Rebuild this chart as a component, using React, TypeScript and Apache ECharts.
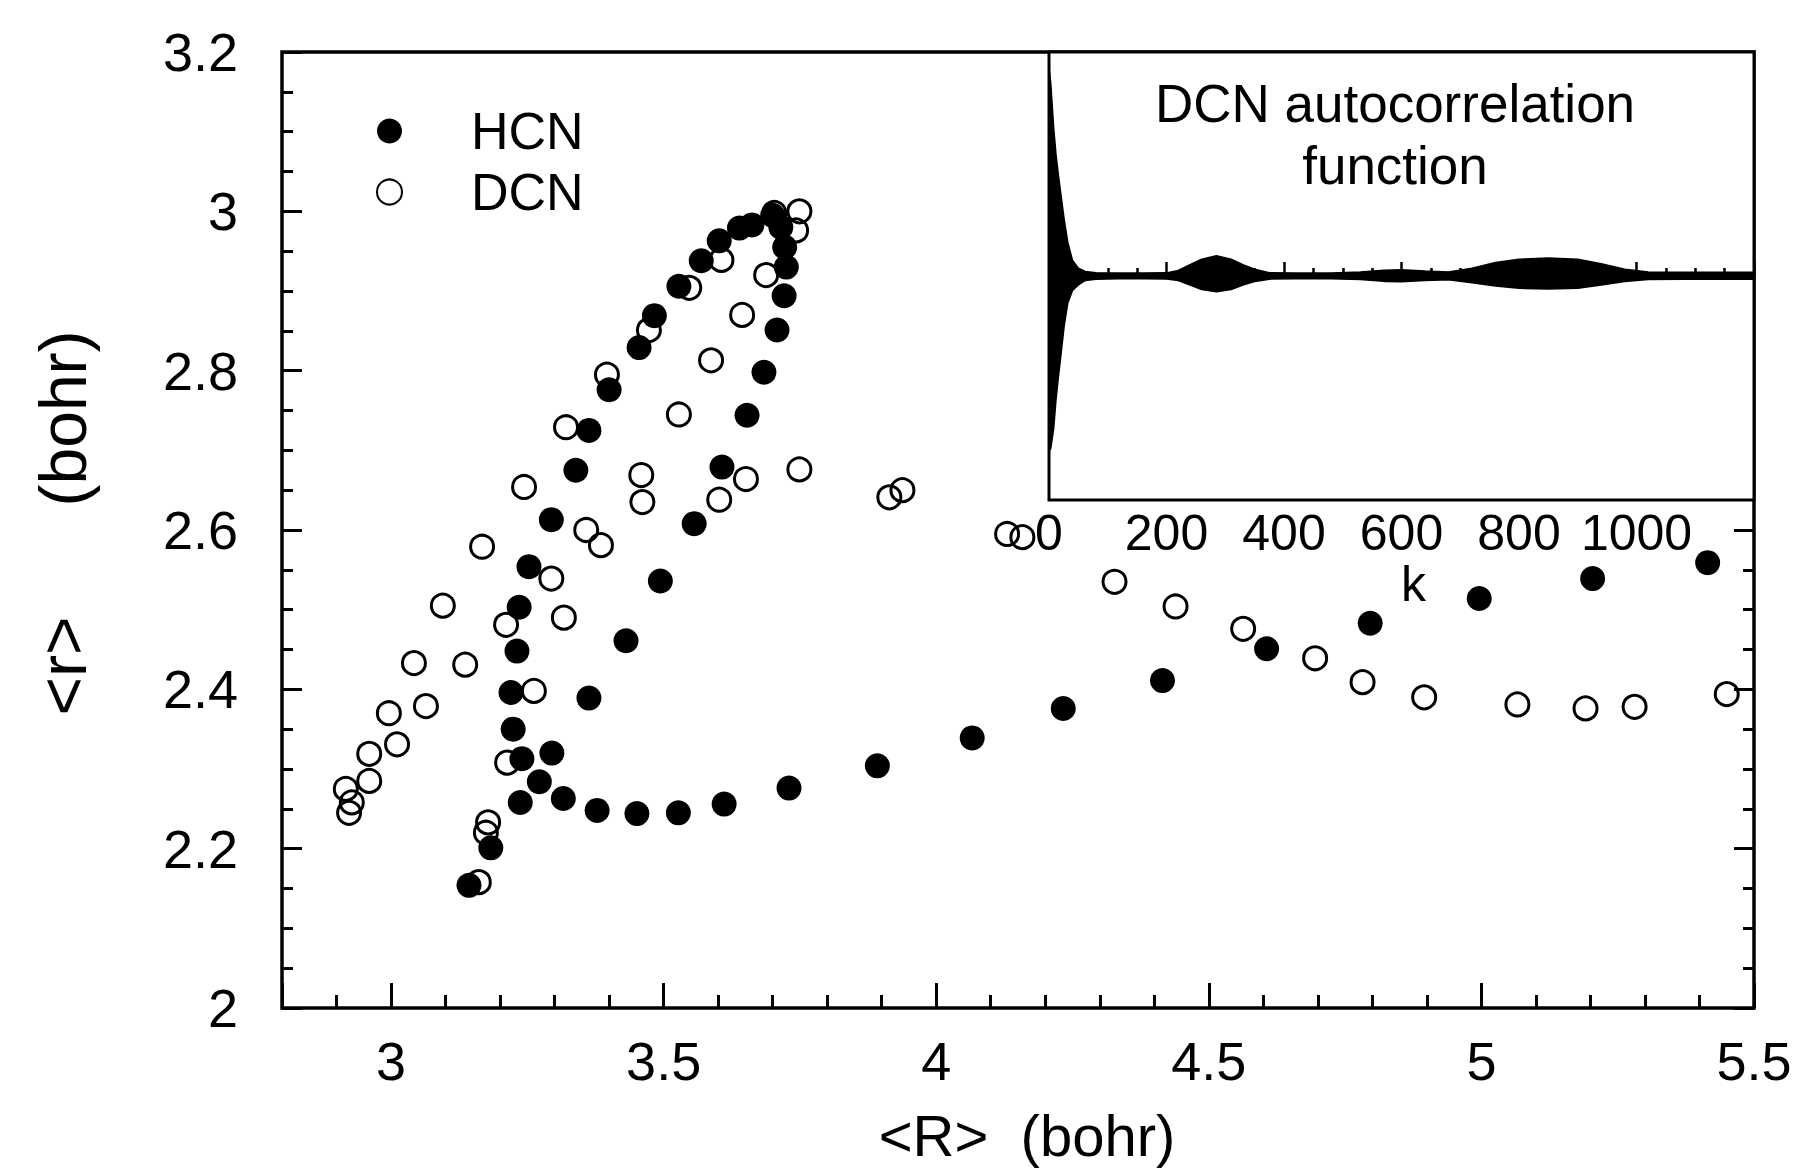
import React, { useEffect, useRef } from "react";
import * as echarts from "echarts";

// HCN (filled circles): <R> and <r> in bohr
const hcnR = [3.143, 3.183, 3.237, 3.272, 3.240, 3.295, 3.224, 3.220, 3.231, 3.235, 3.253, 3.294, 3.339, 3.363, 3.400, 3.455, 3.483, 3.528, 3.569, 3.602, 3.639, 3.662, 3.700, 3.715, 3.722, 3.725, 3.721, 3.708, 3.684, 3.653, 3.607, 3.556, 3.494, 3.431, 3.363, 3.316, 3.378, 3.451, 3.527, 3.611, 3.730, 3.892, 4.066, 4.233, 4.415, 4.606, 4.796, 4.996, 5.204, 5.415];
const hcnr = [2.154, 2.201, 2.258, 2.284, 2.313, 2.320, 2.350, 2.396, 2.448, 2.503, 2.554, 2.613, 2.675, 2.725, 2.776, 2.829, 2.869, 2.906, 2.938, 2.963, 2.979, 2.983, 2.995, 2.980, 2.955, 2.930, 2.894, 2.851, 2.798, 2.744, 2.679, 2.608, 2.536, 2.461, 2.389, 2.263, 2.248, 2.244, 2.245, 2.256, 2.276, 2.304, 2.339, 2.376, 2.411, 2.451, 2.483, 2.514, 2.539, 2.559];

// DCN (open circles)
const dcnR = [2.923, 2.928, 2.917, 2.960, 2.960, 3.011, 2.996, 3.064, 3.042, 3.136, 3.095, 3.167, 3.244, 3.321, 3.396, 3.473, 3.547, 3.606, 3.703, 3.749, 3.743, 3.688, 3.644, 3.587, 3.528, 3.459, 3.461, 3.358, 3.385, 3.294, 3.211, 3.317, 3.262, 3.213, 3.178, 3.174, 3.161, 3.651, 3.602, 3.749, 3.914, 3.938, 4.130, 4.158, 4.327, 4.439, 4.563, 4.695, 4.782, 4.895, 5.066, 5.191, 5.281, 5.450];
const dcnr = [2.245, 2.258, 2.275, 2.285, 2.319, 2.331, 2.370, 2.379, 2.433, 2.431, 2.505, 2.579, 2.654, 2.729, 2.795, 2.851, 2.904, 2.939, 2.998, 3.000, 2.976, 2.920, 2.870, 2.813, 2.745, 2.669, 2.635, 2.600, 2.581, 2.539, 2.481, 2.490, 2.398, 2.308, 2.233, 2.220, 2.158, 2.664, 2.638, 2.676, 2.641, 2.650, 2.595, 2.591, 2.535, 2.504, 2.476, 2.439, 2.409, 2.390, 2.381, 2.376, 2.378, 2.394];

// Inset: envelope of the DCN autocorrelation function vs k
const kEnv = [0, 3, 8, 12, 16, 20, 26, 32, 40, 50, 62, 80, 120, 160, 200, 220, 240, 260, 285, 310, 330, 350, 375, 420, 480, 530, 570, 600, 640, 680, 720, 760, 800, 850, 900, 940, 980, 1020, 1080, 1140, 1200];
const upperEnv = [0.93, 0.86, 0.66, 0.54, 0.45, 0.37, 0.25, 0.15, 0.07, 0.035, 0.02, 0.015, 0.013, 0.013, 0.014, 0.025, 0.05, 0.075, 0.09, 0.075, 0.05, 0.03, 0.015, 0.013, 0.013, 0.018, 0.026, 0.028, 0.022, 0.018, 0.035, 0.06, 0.075, 0.08, 0.075, 0.055, 0.03, 0.018, 0.017, 0.017, 0.017];
const lowerEnv = [-0.78, -0.77, -0.68, -0.55, -0.45, -0.36, -0.22, -0.12, -0.065, -0.04, -0.02, -0.014, -0.012, -0.012, -0.013, -0.02, -0.04, -0.06, -0.07, -0.06, -0.04, -0.025, -0.014, -0.012, -0.012, -0.016, -0.024, -0.026, -0.02, -0.017, -0.03, -0.045, -0.055, -0.058, -0.055, -0.04, -0.025, -0.016, -0.015, -0.015, -0.015];

const FONT = "Liberation Sans, Arial, Helvetica, sans-serif";

export default function App() {
  const ref = useRef<HTMLDivElement>(null);

  useEffect(() => {
    if (!ref.current) return;
    const chart = echarts.init(ref.current, undefined, { renderer: "svg" });

    const hcnData = hcnR.map((x, i) => [x, hcnr[i]]);
    const dcnData = dcnR.map((x, i) => [x, dcnr[i]]);
    const upData = kEnv.map((k, i) => [k, upperEnv[i]]);
    const loData = kEnv.map((k, i) => [k, lowerEnv[i]]);

    const tickLine = { color: "#000", width: 3 };

    chart.setOption({
      animation: false,
      backgroundColor: "#fff",
      textStyle: { fontFamily: FONT, color: "#000" },
      title: {
        text: "DCN autocorrelation\nfunction",
        left: 1395,
        textAlign: "center",
        top: 72,
        padding: 0,
        textStyle: { fontFamily: FONT, fontSize: 53, fontWeight: "normal", lineHeight: 62, color: "#000" },
      },
      legend: {
        orient: "vertical",
        left: 376,
        top: 105,
        itemWidth: 25,
        itemHeight: 25,
        itemGap: 9,
        padding: 0,
        data: ["HCN", "DCN"],
        textStyle: { fontFamily: FONT, fontSize: 52, lineHeight: 52, color: "#000", padding: [0, 0, 0, 64] },
      },
      grid: [
        {
          left: 282, right: 48, top: 52, bottom: 157,
          show: true, borderColor: "#000", borderWidth: 3.5, backgroundColor: "transparent",
        },
        {
          left: 1049, right: 48, top: 52, bottom: 669,
          show: true, borderColor: "#000", borderWidth: 3, backgroundColor: "#fff", z: 3,
        },
      ],
      xAxis: [
        {
          type: "value", gridIndex: 0, min: 2.8, max: 5.5, splitNumber: 5,
          axisLine: { show: false },
          axisTick: { show: true, inside: true, length: 25, lineStyle: tickLine },
          minorTick: { show: true, splitNumber: 5, length: 13, lineStyle: tickLine },
          splitLine: { show: false },
          axisLabel: { showMinLabel: false, fontSize: 54, margin: 26, color: "#000", fontFamily: FONT },
          name: "<R>  (bohr)", nameLocation: "middle", nameGap: 98,
          nameTextStyle: { fontSize: 58, color: "#000", fontFamily: FONT, padding: [0, 0, 0, 18] },
        },
        {
          type: "value", gridIndex: 1, min: 0, max: 1200, interval: 200,
          axisLine: { show: false },
          axisTick: { show: true, inside: true, length: 14, lineStyle: { color: "#000", width: 2.5 } },
          minorTick: { show: true, splitNumber: 4, length: 8, lineStyle: { color: "#000", width: 2.5 } },
          splitLine: { show: false },
          axisLabel: {
            showMaxLabel: false, fontSize: 50, margin: 8, color: "#000", fontFamily: FONT,
            formatter: (v: number) => String(v),
          },
          name: "k", nameLocation: "middle", nameGap: 58,
          nameTextStyle: { fontSize: 50, color: "#000", fontFamily: FONT, padding: [0, 0, 0, 24] },
          z: 4,
        },
      ],
      yAxis: [
        {
          type: "value", gridIndex: 0, min: 2, max: 3.2, interval: 0.2, position: "left",
          axisLine: { show: false },
          axisTick: { show: true, inside: true, length: 20, lineStyle: tickLine },
          minorTick: { show: true, splitNumber: 4, length: 11, lineStyle: tickLine },
          splitLine: { show: false },
          axisLabel: { fontSize: 54, margin: 44, color: "#000", fontFamily: FONT },
          name: "<r>      (bohr)", nameLocation: "middle", nameGap: 186, nameRotate: 90,
          nameTextStyle: { fontSize: 66, color: "#000", fontFamily: FONT, padding: [0, 0, 0, 14] },
        },
        {
          type: "value", gridIndex: 0, min: 2, max: 3.2, interval: 0.2, position: "right",
          axisLine: { show: false },
          axisTick: { show: true, inside: true, length: 20, lineStyle: tickLine },
          minorTick: { show: true, splitNumber: 4, length: 11, lineStyle: tickLine },
          splitLine: { show: false },
          axisLabel: { show: false },
        },
        {
          type: "value", gridIndex: 1, min: -1, max: 1,
          axisLine: { show: false }, axisTick: { show: false },
          axisLabel: { show: false }, splitLine: { show: false },
        },
      ],
      series: [
        {
          name: "DCN", type: "scatter", xAxisIndex: 0, yAxisIndex: 0,
          symbol: "circle", symbolSize: 23, data: dcnData, z: 3,
          itemStyle: { color: "rgba(255,255,255,0)", borderColor: "#000", borderWidth: 3, opacity: 1 },
        },
        {
          name: "HCN", type: "scatter", xAxisIndex: 0, yAxisIndex: 0,
          symbol: "circle", symbolSize: 25, data: hcnData, z: 4,
          itemStyle: { color: "#000", opacity: 1 },
        },
        {
          name: "acf-upper", type: "line", xAxisIndex: 1, yAxisIndex: 2,
          data: upData, showSymbol: false, symbol: "none", z: 5,
          lineStyle: { color: "#000", width: 1.5 },
          areaStyle: { color: "#000", opacity: 1 },
        },
        {
          name: "acf-lower", type: "line", xAxisIndex: 1, yAxisIndex: 2,
          data: loData, showSymbol: false, symbol: "none", z: 5,
          lineStyle: { color: "#000", width: 1.5 },
          areaStyle: { color: "#000", opacity: 1 },
        },
      ],
    });

    return () => chart.dispose();
  }, []);

  return (
    <div
      ref={ref}
      style={{ position: "fixed", left: 0, top: 0, width: 1802, height: 1169, background: "#fff" }}
    />
  );
}
